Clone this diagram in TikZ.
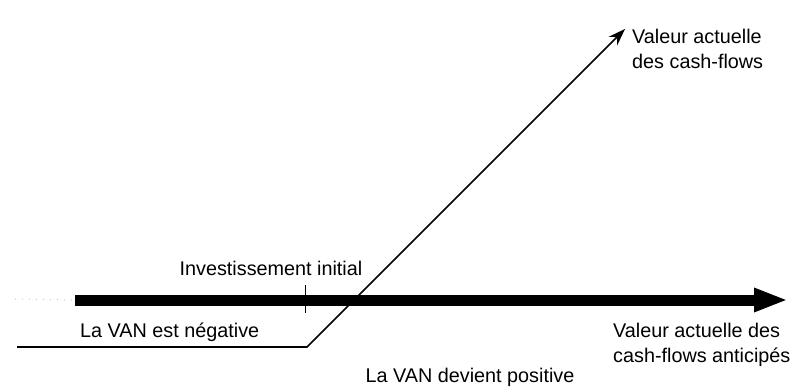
\documentclass[tikz,border=0pt]{standalone}
\usepackage{fontspec}
\setmainfont{Liberation Sans}
\usetikzlibrary{arrows.meta}
\begin{document}
\begin{tikzpicture}[x=1pt,y=-1pt,
  lbl/.style={inner sep=0pt, font=\fontsize{19.8}{24.5}\selectfont, align=left},
  bigarrow/.style={line width=11pt, -{Triangle[length=34pt,width=22pt]}},
  valline/.style={line width=1.7pt, -{Stealth[length=17pt,width=12pt]}}]
\useasboundingbox (0,0) rectangle (800,390);
% coordinates
\coordinate (dotstart) at (15,299);
\coordinate (ashaft) at (75,300);
\coordinate (atip) at (788,300);
\coordinate (lstart) at (17,347);
\coordinate (lknee) at (307,347);
\coordinate (ltip) at (625,29);
\coordinate (ticktop) at (305,285);
\coordinate (tickbot) at (305,313);
% faint leading dots
\draw[gray!45, line width=1pt, dash pattern=on 1pt off 6pt] (dotstart) -- (ashaft);
% thick axis arrow
\draw[bigarrow] (ashaft) -- (atip);
% tick
\draw[line width=0.8pt] (ticktop) -- (tickbot);
% value line
\draw[valline] (lstart) -- (lknee) -- (ltip);
% labels
\node[lbl, anchor=base] (inv) at (271,275) {Investissement initial};
\node[lbl, anchor=base west] (neg) at (80,337) {La VAN est négative};
\node[lbl, anchor=base] (pos) at (470,382) {La VAN devient positive};
\node[lbl, anchor=north west] (vac) at (632,29) {Valeur actuelle\\des cash-flows};
\node[lbl, anchor=north west] (vaa) at (613,323) {Valeur actuelle des\\cash-flows anticipés};
\end{tikzpicture}
\end{document}
